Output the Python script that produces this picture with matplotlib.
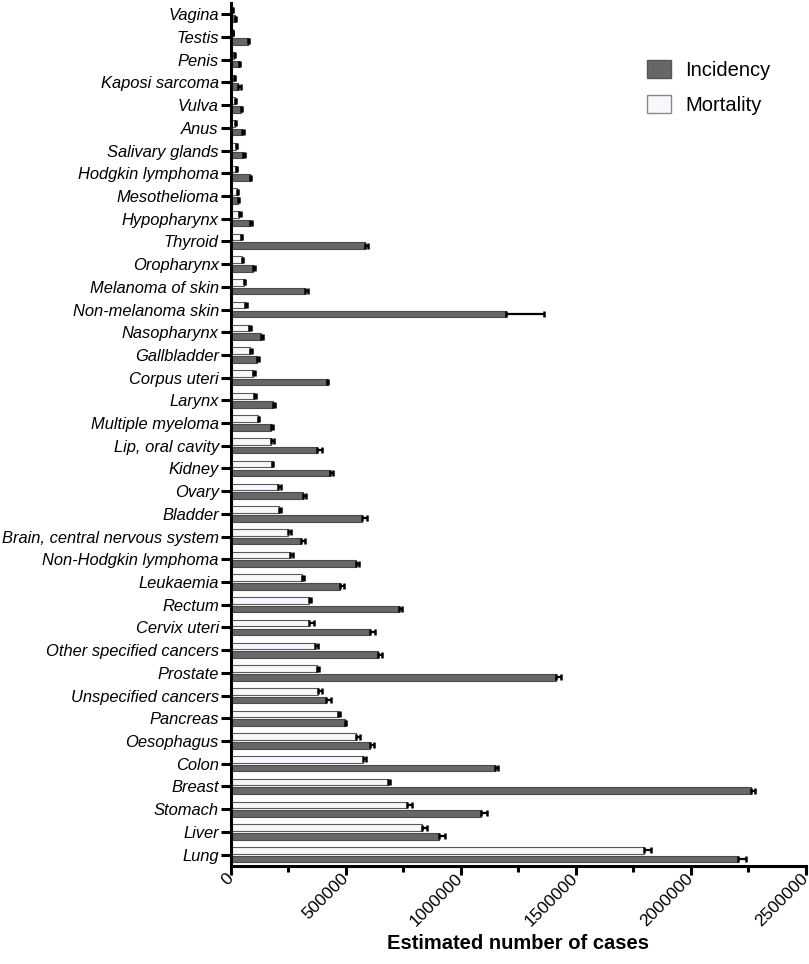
import matplotlib
matplotlib.use("Agg")
import matplotlib.pyplot as plt
from matplotlib.ticker import MultipleLocator
from matplotlib.patches import Patch
import numpy as np

plt.rcParams['font.family'] = ['Liberation Sans', 'DejaVu Sans']

# Categories from bottom (Lung) to top (Vagina)
categories = ["Lung", "Liver", "Stomach", "Breast", "Colon", "Oesophagus", "Pancreas",
              "Unspecified cancers", "Prostate", "Other specified cancers", "Cervix uteri",
              "Rectum", "Leukaemia", "Non-Hodgkin lymphoma", "Brain, central nervous system",
              "Bladder", "Ovary", "Kidney", "Lip, oral cavity", "Multiple myeloma", "Larynx",
              "Corpus uteri", "Gallbladder", "Nasopharynx", "Non-melanoma skin",
              "Melanoma of skin", "Oropharynx", "Thyroid", "Hypopharynx", "Mesothelioma",
              "Hodgkin lymphoma", "Salivary glands", "Anus", "Vulva", "Kaposi sarcoma",
              "Penis", "Testis", "Vagina"]

incidence = [2206771, 905677, 1089103, 2261419, 1148515, 604100, 495773,
             415000, 1414259, 640000, 604127,
             732210, 474519, 544352, 308102,
             573278, 313959, 431288, 377713, 176404, 184615,
             417367, 115949, 133354, 1198073,
             324635, 98412, 586202, 84254, 30870,
             83087, 53583, 50865, 45240, 34270,
             36068, 74458, 17908]

incidence_err = [35000, 25000, 25000, 20000, 12000, 20000, 8000,
                 20000, 22000, 20000, 24000,
                 12000, 18000, 12000, 15000,
                 18000, 15000, 16000, 18000, 9000, 10000,
                 8000, 8000, 8000, 165000,
                 10000, 9000, 10000, 9000, 6000,
                 7000, 8000, 7000, 6000, 9000,
                 7000, 7000, 6000]

mortality = [1796144, 830180, 768793, 684996, 576858, 544076, 466003,
             380000, 375304, 365000, 341831,
             339022, 311594, 259793, 251329,
             212536, 207252, 179368, 177757, 117077, 99840,
             97370, 84695, 80008, 63731,
             57043, 48143, 43646, 38599, 26278,
             23376, 22778, 19293, 17427, 15086,
             13211, 9251, 7995]

mortality_err = [30000, 25000, 20000, 10000, 10000, 20000, 8000,
                 16000, 10000, 17000, 20000,
                 10000, 8000, 10000, 10000,
                 8000, 10000, 6000, 12000, 7000, 9000,
                 8000, 8000, 8000, 6000,
                 6000, 7000, 6000, 7000, 6000,
                 6000, 6000, 6000, 5000, 6000,
                 5000, 3000, 3000]

xticks = [0, 500000, 1000000, 1500000, 2000000, 2500000]

fig = plt.figure(figsize=(8.09, 9.64), dpi=100)
ax = fig.add_axes([0.285, 0.1017, 0.711, 0.8953])

y = np.arange(len(categories))
h = 0.29
off = 0.19

inc_col = '#676767'
mort_col = '#f6f8fb'

ax.barh(y - off, incidence, height=h, color=inc_col, edgecolor='#4a4a4a', linewidth=0.8, zorder=2)
ax.barh(y + off, mortality, height=h, color=mort_col, edgecolor='#5a5a5a', linewidth=0.8, zorder=2)

zeros = np.zeros(len(categories))
ax.errorbar(incidence, y - off, xerr=[zeros, incidence_err], fmt='none', ecolor='black',
            elinewidth=1.6, capsize=2.5, capthick=1.8, zorder=3)
ax.errorbar(mortality, y + off, xerr=[zeros, mortality_err], fmt='none', ecolor='black',
            elinewidth=1.6, capsize=2.5, capthick=1.8, zorder=3)

ax.set_xlim(0, 2500000)
ax.set_ylim(-0.5, 37.5)

ax.set_yticks(y)
ax.set_yticklabels(categories, fontsize=11.9, fontstyle='italic')
ax.set_xticks(xticks)
ax.set_xticklabels([str(v) for v in xticks], fontsize=12.5, rotation=45, ha='right',
                   va='center', rotation_mode='anchor')
ax.xaxis.set_minor_locator(MultipleLocator(250000))

for s in ['top', 'right']:
    ax.spines[s].set_visible(False)
for s in ['left', 'bottom']:
    ax.spines[s].set_linewidth(2.2)
    ax.spines[s].set_color('black')

ax.tick_params(axis='y', which='major', length=7.5, width=2.2, pad=1)
ax.tick_params(axis='x', which='major', length=6.5, width=2.2, pad=1)
ax.tick_params(axis='x', which='minor', length=4, width=2.2)

ax.set_xlabel("Estimated number of cases", fontsize=14.5, fontweight='bold')
ax.xaxis.set_label_coords(0.5, -0.079)

handles = [Patch(facecolor=inc_col, edgecolor='#555555', label='Incidency'),
           Patch(facecolor=mort_col, edgecolor='#888888', label='Mortality')]
ax.legend(handles=handles, loc='upper right', bbox_to_anchor=(0.97, 0.955), frameon=False,
          fontsize=14.5, handlelength=1.2, handleheight=1.0, handletextpad=0.7,
          labelspacing=0.75)

fig.savefig("out.png", dpi=100)
